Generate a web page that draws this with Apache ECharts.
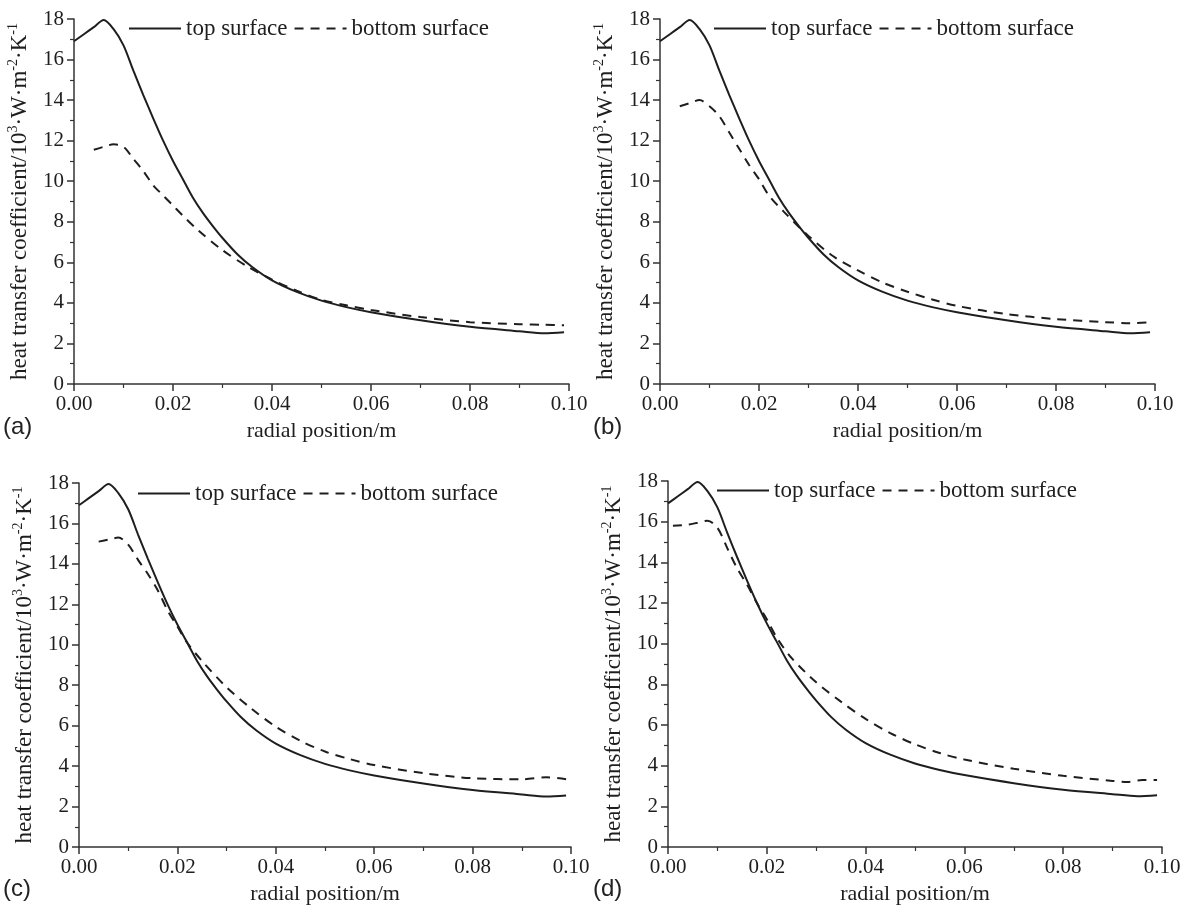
<!DOCTYPE html>
<html><head><meta charset="utf-8">
<script src="https://cdn.jsdelivr.net/npm/echarts@6/dist/echarts.min.js"></script>
<style>html,body{margin:0;padding:0;background:#fff}#c{width:1187px;height:916px}</style>
</head><body><div id="c"></div>
<script>
// ---- data (radial position in m, heat transfer coefficient in 10^3 W/(m^2 K)) ----
const radialTop = [0.000,0.002,0.004,0.006,0.008,0.010,0.012,0.014,0.016,0.018,0.020,0.022,0.024,0.026,0.028,0.030,0.033,0.036,0.040,0.045,0.050,0.055,0.060,0.070,0.080,0.090,0.095,0.099];
const topSurface = [16.9,17.25,17.6,17.95,17.5,16.7,15.45,14.25,13.1,12.0,11.0,10.1,9.2,8.45,7.8,7.2,6.4,5.77,5.11,4.54,4.11,3.79,3.54,3.14,2.82,2.6,2.5,2.55];

const radialBottom = [0.004,0.006,0.008,0.010,0.012,0.014,0.016,0.018,0.020,0.022,0.025,0.030,0.035,0.040,0.045,0.050,0.055,0.060,0.070,0.080,0.090,0.095,0.099];
const bottomA = [11.55,11.7,11.82,11.7,11.1,10.5,9.8,9.3,8.8,8.3,7.6,6.6,5.8,5.15,4.6,4.15,3.88,3.65,3.3,3.05,2.95,2.92,2.9];
const bottomB = [13.7,13.85,14.0,13.7,13.2,12.4,11.6,10.8,10.1,9.3,8.5,7.3,6.3,5.6,5.0,4.55,4.17,3.85,3.45,3.2,3.05,3.0,3.05];
const bottomC = [15.1,15.2,15.3,14.95,14.2,13.5,12.7,11.7,10.9,10.1,9.2,7.9,6.85,5.95,5.25,4.72,4.35,4.05,3.65,3.4,3.35,3.45,3.35];
const radialBottomD = [0.001,0.004,0.006,0.008,0.010,0.012,0.014,0.016,0.018,0.020,0.022,0.025,0.030,0.035,0.040,0.045,0.050,0.055,0.060,0.070,0.080,0.090,0.093,0.096,0.099];
const bottomD = [15.8,15.85,15.95,16.05,15.7,14.7,13.7,12.9,12.0,11.2,10.3,9.3,8.1,7.15,6.3,5.6,5.05,4.62,4.3,3.85,3.5,3.25,3.2,3.3,3.3];

const seriesNames = ['top surface', 'bottom surface'];
const panelLabels = ['(a)', '(b)', '(c)', '(d)'];
const xTitle = 'radial position/m';
const yTitle = '{b|heat transfer coefficient/10}{s|3}{b|·W·m}{s|-2}{b|·K}{s|-1}';

const bottoms = [
  {x: radialBottom, y: bottomA},
  {x: radialBottom, y: bottomB},
  {x: radialBottom, y: bottomC},
  {x: radialBottomD, y: bottomD}
];

// ---- layout ----
const panels = [
  {left: 74,  top: 19,  width: 495, height: 365, legendLeft: 128, legendTop: 17, lab: [3, 428]},
  {left: 660, top: 19,  width: 495, height: 365, legendLeft: 713, legendTop: 17, lab: [593, 428]},
  {left: 79,  top: 483, width: 492, height: 364, legendLeft: 137, legendTop: 482, lab: [3, 890]},
  {left: 668, top: 481, width: 494, height: 366, legendLeft: 716, legendTop: 479, lab: [593, 890]}
];

const SERIF = '"Liberation Serif","Times New Roman",serif';
const INK = '#1e1e1e';
const zip = (xs, ys) => xs.map((x, i) => [x, ys[i]]);

const option = {
  backgroundColor: '#fff',
  animation: false,
  grid: [], xAxis: [], yAxis: [], series: [], legend: [], graphic: []
};

panels.forEach((p, i) => {
  option.grid.push({left: p.left, top: p.top, width: p.width, height: p.height, containLabel: false});
  option.xAxis.push({
    type: 'value', gridIndex: i, min: 0, max: 0.1, interval: 0.02,
    name: xTitle, nameLocation: 'middle', nameGap: 36,
    nameTextStyle: {fontFamily: SERIF, fontSize: 22, color: INK},
    axisLine: {show: true, onZero: false, lineStyle: {color: '#333', width: 1.5}},
    axisTick: {show: true, inside: false, length: 7, lineStyle: {color: '#333', width: 1.5}},
    minorTick: {show: true, splitNumber: 2, length: 4, lineStyle: {color: '#333', width: 1.2}},
    splitLine: {show: false},
    axisLabel: {fontFamily: SERIF, fontSize: 21, color: INK, margin: 10,
      formatter: v => v.toFixed(2)}
  });
  option.yAxis.push({
    type: 'value', gridIndex: i, min: 0, max: 18, interval: 2,
    name: yTitle, nameLocation: 'middle', nameGap: 40, nameRotate: 90,
    nameTextStyle: {rich: {
      b: {fontFamily: SERIF, fontSize: 23, color: INK, lineHeight: 28},
      s: {fontFamily: SERIF, fontSize: 14, color: INK, lineHeight: 14, verticalAlign: 'top'}
    }},
    axisLine: {show: true, lineStyle: {color: '#333', width: 1.5}},
    axisTick: {show: true, inside: false, length: 7, lineStyle: {color: '#333', width: 1.5}},
    minorTick: {show: true, splitNumber: 2, length: 4, lineStyle: {color: '#333', width: 1.2}},
    splitLine: {show: false},
    axisLabel: {fontFamily: SERIF, fontSize: 21, color: INK, margin: 10}
  });
  option.series.push({
    name: seriesNames[0], type: 'line', xAxisIndex: i, yAxisIndex: i,
    data: zip(radialTop, topSurface), symbol: 'none', showSymbol: false, smooth: 0.3,
    lineStyle: {color: INK, width: 2, type: 'solid'}, itemStyle: {color: INK}
  });
  option.series.push({
    name: seriesNames[1], type: 'line', xAxisIndex: i, yAxisIndex: i,
    data: zip(bottoms[i].x, bottoms[i].y), symbol: 'none', showSymbol: false, smooth: 0.3,
    lineStyle: {color: INK, width: 2, type: [9, 7]}, itemStyle: {color: INK}
  });
  option.legend.push({
    left: p.legendLeft, top: p.legendTop, orient: 'horizontal', padding: 0,
    itemWidth: 52, itemHeight: 14, itemGap: 6, selectedMode: false,
    data: seriesNames,
    itemStyle: {opacity: 0},
    lineStyle: {opacity: 1},
    textStyle: {fontFamily: SERIF, fontSize: 23, color: INK}
  });
  option.graphic.push({
    type: 'text', left: p.lab[0], top: p.lab[1] - 13,
    style: {text: panelLabels[i], font: '24px "Liberation Sans", Arial, sans-serif', fill: '#222'}
  });
});

const chart = echarts.init(document.getElementById('c'), null, {renderer: 'canvas'});
chart.setOption(option);
</script>
</body></html>
